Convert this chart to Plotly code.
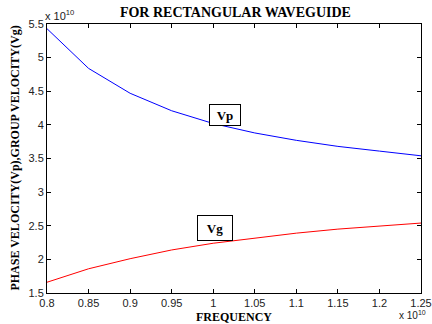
import plotly.graph_objects as go

freq = [0.80, 0.85, 0.90, 0.95, 1.00, 1.05, 1.10, 1.15, 1.20, 1.25]  # x 1e10 Hz
vp = [5.43, 4.84, 4.47, 4.21, 4.02, 3.88, 3.77, 3.68, 3.61, 3.54]   # x 1e10
vg = [1.66, 1.86, 2.01, 2.14, 2.24, 2.32, 2.39, 2.45, 2.49, 2.54]   # x 1e10

xticks = [0.8, 0.85, 0.9, 0.95, 1.0, 1.05, 1.1, 1.15, 1.2, 1.25]
xticklabels = ["0.8", "0.85", "0.9", "0.95", "1", "1.05", "1.1", "1.15", "1.2", "1.25"]
yticks = [1.5, 2, 2.5, 3, 3.5, 4, 4.5, 5, 5.5]
yticklabels = ["1.5", "2", "2.5", "3", "3.5", "4", "4.5", "5", "5.5"]

serif = "Liberation Serif"
sans = "Liberation Sans"

fig = go.Figure()
fig.add_trace(go.Scatter(x=freq, y=vp, mode="lines", line=dict(color="#0000ff", width=1), showlegend=False))
fig.add_trace(go.Scatter(x=freq, y=vg, mode="lines", line=dict(color="#ff0000", width=1), showlegend=False))

axis_common = dict(showline=True, linecolor="black", linewidth=1, mirror="ticks",
                   ticks="inside", ticklen=4, tickcolor="black", showgrid=False, zeroline=False,
                   automargin=False,
                   tickfont=dict(family=sans, size=11, color="#222"))

fig.update_xaxes(range=[0.8, 1.25], tickvals=xticks, ticktext=xticklabels,
                 title=dict(text="<b>FREQUENCY</b>", font=dict(family=serif, size=12, color="black")),
                 **axis_common)
fig.update_yaxes(range=[1.5, 5.5], tickvals=yticks, ticktext=yticklabels, **axis_common)

fig.update_layout(
    width=432, height=324,
    margin=dict(l=47, r=11, t=24, b=31),
    paper_bgcolor="white", plot_bgcolor="white",
    title=dict(text="<b>FOR RECTANGULAR WAVEGUIDE</b>", x=0.545, xanchor="center", y=0.962, yanchor="middle",
               font=dict(family=serif, size=14, color="black")),
    annotations=[
        dict(text="<b>PHASE VELOCITY(Vp),GROUP VELOCITY(Vg)</b>", xref="paper", yref="paper",
             x=-0.088, y=0.5, xanchor="center", yanchor="middle", textangle=-90, showarrow=False,
             font=dict(family=serif, size=12, color="black")),
        dict(text="x 10<sup>10</sup>", xref="paper", yref="paper", x=-0.01, y=1.0, xanchor="left", yanchor="bottom",
             showarrow=False, font=dict(family=sans, size=11, color="#222")),
        dict(text="x 10<sup>10</sup>", xref="paper", yref="paper", x=1.02, y=-0.112, xanchor="right", yanchor="bottom",
             showarrow=False, font=dict(family=sans, size=10, color="#222")),
        dict(text="<b>Vp</b>", x=1.0136, y=4.14, xref="x", yref="y", showarrow=False,
             font=dict(family=serif, size=13, color="black"), bordercolor="black", borderwidth=1,
             bgcolor="white", width=28, height=18),
        dict(text="<b>Vg</b>", x=1.0027, y=2.47, xref="x", yref="y", showarrow=False,
             font=dict(family=serif, size=13, color="black"), bordercolor="black", borderwidth=1,
             bgcolor="white", width=32, height=22),
    ],
)

fig.write_html("out.html")
